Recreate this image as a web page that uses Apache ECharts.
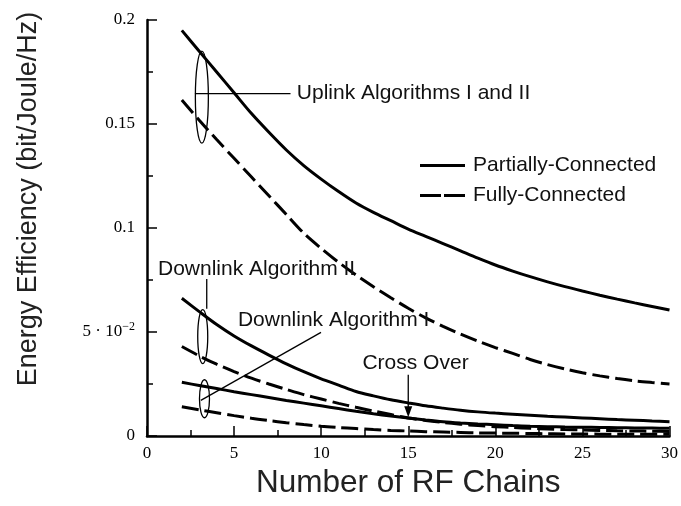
<!DOCTYPE html>
<html>
<head>
<meta charset="utf-8">
<script src="https://cdn.jsdelivr.net/npm/echarts@6/dist/echarts.min.js"></script>
<style>html,body{margin:0;padding:0;background:#fff}#c{width:681px;height:506px}</style>
</head>
<body>
<div id="c"></div>
<script>
// ---- data ----
const rfChains = [2,3,4,5,6,7,8,9,10,11,12,13,14,15,16,17,18,19,20,21,22,23,24,25,26,27,28,29,30];
const ulPartial = [0.195,0.185,0.175,0.165,0.155,0.146,0.1375,0.130,0.1235,0.1175,0.112,0.1075,0.1035,0.0995,0.096,0.0925,0.089,0.0855,0.0822,0.0793,0.0766,0.0741,0.0718,0.0697,0.0677,0.0658,0.064,0.0623,0.0606];
const ulFully   = [0.1615,0.1518,0.1425,0.1335,0.1245,0.1155,0.1065,0.0975,0.0902,0.0835,0.0774,0.0718,0.0665,0.0614,0.0568,0.0527,0.049,0.0456,0.0425,0.0397,0.0368,0.0343,0.0322,0.0304,0.0289,0.0276,0.0265,0.0257,0.025];
const dl2Partial = [0.0662,0.0598,0.0536,0.0481,0.0433,0.0389,0.0347,0.0309,0.0275,0.0245,0.0214,0.0193,0.0174,0.0159,0.0145,0.0134,0.0124,0.0116,0.011,0.0105,0.01,0.0095,0.0091,0.0087,0.0083,0.0079,0.0076,0.0072,0.0069];
const dl2Fully   = [0.043,0.0385,0.0345,0.031,0.0278,0.025,0.0224,0.0199,0.0178,0.0157,0.0138,0.012,0.0103,0.0087,0.0075,0.0065,0.0057,0.005,0.0045,0.0041,0.0037,0.0034,0.0031,0.0029,0.0027,0.0025,0.0024,0.0023,0.0022];
const dl1Partial = [0.0258,0.0243,0.0228,0.0213,0.0199,0.0185,0.0171,0.0158,0.0145,0.0132,0.0119,0.0107,0.0096,0.0086,0.0077,0.0069,0.0063,0.0058,0.0054,0.005,0.0047,0.0045,0.0043,0.0042,0.0041,0.004,0.0039,0.0038,0.0037];
const dl1Fully   = [0.0141,0.0126,0.0112,0.0098,0.0085,0.0074,0.0064,0.0055,0.0047,0.0041,0.0036,0.0031,0.0027,0.0024,0.0021,0.0019,0.0017,0.0015,0.0014,0.0013,0.0012,0.0011,0.001,0.001,0.0009,0.0009,0.0008,0.0008,0.0008];
const yTickLabels = ['0','5 · 10{sup|−2}','0.1','0.15','0.2'];
const legendNames = ['Partially-Connected','Fully-Connected'];

const pairs = arr => rfChains.map((x,i)=>[x,arr[i]]);
const solid = {color:'#000', width:3, type:'solid'};
const dashed = {color:'#000', width:3, type:[17,6]};
function mk(name, arr, ls){
  return {name:name, type:'line', data:pairs(arr), symbol:'none', smooth:0.3, lineStyle:ls, itemStyle:{color:'#000'}, z:3};
}

const chart = echarts.init(document.getElementById('c'), null, {renderer:'canvas'});
const serif = 'Liberation Serif';
const sans = 'Liberation Sans, Arial, Helvetica, sans-serif';
chart.setOption({
  animation:false,
  backgroundColor:'#fff',
  grid:{left:147, right:10, top:20, bottom:70},
  legend:{
    data:[
      {name:legendNames[0], icon:'path://M0,0L45,0L45,3L0,3Z'},
      {name:legendNames[1], icon:'path://M0,0L21,0L21,3L0,3Z M24,0L45,0L45,3L24,3Z'}
    ],
    left:420, top:155, padding:0, orient:'vertical', itemWidth:45, itemHeight:3, itemGap:9,
    itemStyle:{color:'#000', borderWidth:0},
    textStyle:{fontFamily:sans, fontSize:21, color:'#111', lineHeight:21, padding:[0,0,0,3]}
  },
  xAxis:{
    type:'value', min:0, max:30, interval:5,
    name:'Number of RF Chains', nameLocation:'middle', nameGap:25,
    nameTextStyle:{fontFamily:sans, fontSize:31.5, color:'#222'},
    axisLine:{lineStyle:{color:'#000', width:2.5}},
    axisTick:{inside:true, length:10, lineStyle:{color:'#000', width:1.5}},
    minorTick:{show:true, splitNumber:2, length:6, lineStyle:{color:'#000', width:1.5}},
    splitLine:{show:false},
    axisLabel:{fontFamily:serif, fontSize:17, color:'#000', margin:9}
  },
  yAxis:{
    type:'value', min:0, max:0.2, interval:0.05,
    name:'Energy Efficiency (bit/Joule/Hz)', nameLocation:'middle', nameGap:105, nameRotate:90,
    nameTextStyle:{fontFamily:sans, fontSize:27, color:'#222', padding:[0,0,0,58]},
    axisLine:{show:true, lineStyle:{color:'#000', width:2.5}},
    axisTick:{show:true, inside:true, length:10, lineStyle:{color:'#000', width:1.5}},
    minorTick:{show:true, splitNumber:2, length:6, lineStyle:{color:'#000', width:1.5}},
    splitLine:{show:false},
    axisLabel:{
      fontFamily:serif, fontSize:17, color:'#000', margin:12,
      formatter: v => yTickLabels[Math.round(v/0.05)],
      rich:{sup:{fontFamily:serif, fontSize:12, color:'#000', verticalAlign:'top', padding:[0,0,10,0]}}
    }
  },
  series:[
    mk(legendNames[0], ulPartial, solid),
    mk(legendNames[1], ulFully, dashed),
    mk(legendNames[0], dl2Partial, solid),
    mk(legendNames[1], dl2Fully, dashed),
    mk(legendNames[0], dl1Partial, solid),
    mk(legendNames[1], dl1Fully, dashed)
  ]
});

// ---- annotations (anchored in data coordinates) ----
const annEllipses = [[3.15,0.1629,6.5,46],[3.2,0.0478,5,27],[3.3,0.0179,5,19]];
const annLines = [[[2.75,0.1646],[8.24,0.1646]],[[3.43,0.0612],[3.43,0.0755]],[[3.09,0.0171],[9.99,0.0498]]];
const annTexts = [['Uplink Algorithms I and II',8.6,0.1646],['Downlink Algorithm II',0.63,0.0803],['Downlink Algorithm I',5.22,0.0559],['Cross Over',12.37,0.0351]];
const arrowFromTo = [[15,0.0294],[15,0.0090]];

const P = p => chart.convertToPixel({gridIndex:0}, p);
const g = [];
annEllipses.forEach(e=>{const c=P([e[0],e[1]]); g.push({type:'ellipse', shape:{cx:c[0],cy:c[1],rx:e[2],ry:e[3]}, style:{fill:null, stroke:'#000', lineWidth:1.3}, z:10});});
annLines.forEach(l=>{const a=P(l[0]), b=P(l[1]); g.push({type:'line', shape:{x1:a[0],y1:a[1],x2:b[0],y2:b[1]}, style:{stroke:'#000', lineWidth:1.3}, z:10});});
annTexts.forEach(t=>{const a=P([t[1],t[2]]); g.push({type:'text', x:a[0], y:a[1], style:{text:t[0], fontFamily:sans, fontSize:21, fill:'#111', verticalAlign:'middle', align:'left'}, z:11});});
(function(){const a=P(arrowFromTo[0]), b=P(arrowFromTo[1]);
  g.push({type:'line', shape:{x1:a[0],y1:a[1],x2:b[0],y2:b[1]-8}, style:{stroke:'#000', lineWidth:1.3}, z:10});
  g.push({type:'polygon', shape:{points:[[b[0]-4,b[1]-11],[b[0]+4,b[1]-11],[b[0],b[1]]]}, style:{fill:'#000'}, z:10});
})();
chart.setOption({graphic:g});
</script>
</body>
</html>
